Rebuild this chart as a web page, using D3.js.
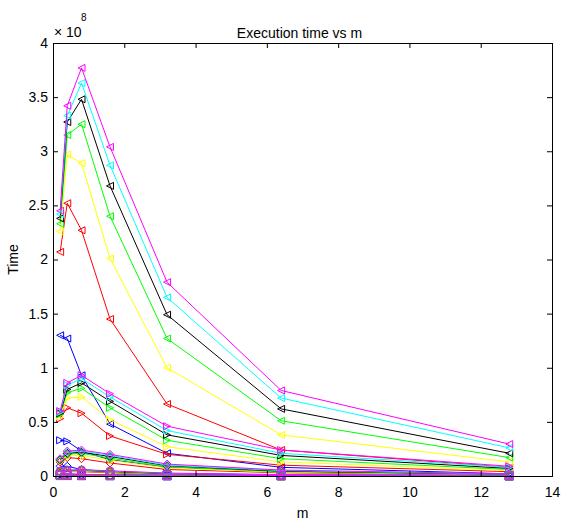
<!DOCTYPE html>
<html>
<head>
<style>
  body { margin: 0; background: #fff; }
  text { font-family: "Liberation Sans", Arial, sans-serif; }
</style>
</head>
<body>
<div id="graph_div"></div>
<script src="https://d3js.org/d3.v7.min.js"></script>
<script>
// m values on the x axis
var mValues = [0.2, 0.4, 0.8, 1.6, 3.2, 6.4, 12.8];
var xTicks = [0, 2, 4, 6, 8, 10, 12, 14];
var yTicks = [0, 0.5, 1, 1.5, 2, 2.5, 3, 3.5, 4];   // x 10^8
var colorNames = ["#0000ff", "#ff0000", "#ffff00", "#00ff00", "#000000", "#00ffff", "#ff00ff"];

// execution time (x 10^8), one row per colour in colorNames order
var timesLeftTri = [
  [1.30, 1.27, 0.93, 0.48, 0.21, 0.08, 0.02],
  [2.07, 2.52, 2.27, 1.45, 0.665, 0.24, 0.08],
  [2.26, 2.97, 2.89, 2.01, 1.00, 0.38, 0.13],
  [2.33, 3.15, 3.25, 2.40, 1.27, 0.51, 0.17],
  [2.38, 3.27, 3.48, 2.68, 1.49, 0.62, 0.21],
  [2.42, 3.33, 3.63, 2.87, 1.65, 0.72, 0.26],
  [2.45, 3.42, 3.77, 3.04, 1.79, 0.79, 0.295]
];
var timesRightTri = [
  [0.33, 0.32, 0.23, 0.15, 0.08, 0.04, 0.015],
  [0.53, 0.63, 0.58, 0.37, 0.20, 0.10, 0.04],
  [0.55, 0.72, 0.73, 0.52, 0.27, 0.13, 0.05],
  [0.57, 0.77, 0.81, 0.63, 0.33, 0.16, 0.06],
  [0.58, 0.80, 0.86, 0.69, 0.38, 0.19, 0.07],
  [0.59, 0.84, 0.90, 0.73, 0.42, 0.21, 0.08],
  [0.60, 0.86, 0.93, 0.76, 0.46, 0.24, 0.09]
];
var timesDiamond = [
  [0.09, 0.09, 0.06, 0.04, 0.02, 0.01, 0.005],
  [0.13, 0.17, 0.16, 0.12, 0.06, 0.03, 0.01],
  [0.14, 0.19, 0.19, 0.145, 0.075, 0.035, 0.012],
  [0.145, 0.20, 0.21, 0.165, 0.085, 0.04, 0.014],
  [0.15, 0.21, 0.22, 0.18, 0.095, 0.045, 0.016],
  [0.155, 0.22, 0.23, 0.19, 0.10, 0.05, 0.018],
  [0.16, 0.23, 0.24, 0.20, 0.11, 0.055, 0.02]
];
var timesCircle = [
  [0.02, 0.02, 0.015, 0.01, 0.005, 0.003, 0.001],
  [0.03, 0.04, 0.04, 0.03, 0.015, 0.008, 0.003],
  [0.035, 0.045, 0.045, 0.035, 0.018, 0.009, 0.003],
  [0.04, 0.048, 0.05, 0.04, 0.02, 0.01, 0.004],
  [0.042, 0.05, 0.052, 0.042, 0.022, 0.011, 0.004],
  [0.045, 0.053, 0.055, 0.045, 0.025, 0.012, 0.005],
  [0.048, 0.055, 0.058, 0.048, 0.027, 0.013, 0.005]
];
var timesSquare = [
  [0.004, 0.004, 0.003, 0.002, 0.001, 0.001, 0.0],
  [0.008, 0.01, 0.01, 0.008, 0.004, 0.002, 0.001],
  [0.009, 0.011, 0.011, 0.009, 0.005, 0.002, 0.001],
  [0.01, 0.012, 0.012, 0.01, 0.005, 0.003, 0.001],
  [0.011, 0.013, 0.013, 0.011, 0.006, 0.003, 0.001],
  [0.012, 0.014, 0.014, 0.012, 0.006, 0.003, 0.001],
  [0.013, 0.015, 0.015, 0.013, 0.007, 0.004, 0.002]
];

var W = 561, H = 520;
var margin = {top: 43, right: 9, bottom: 44, left: 53};
var width = W - margin.left - margin.right,
    height = H - margin.top - margin.bottom;

var svg = d3.select("#graph_div").append("svg")
    .attr("width", W).attr("height", H);
var g = svg.append("g")
    .attr("transform", "translate(" + margin.left + "," + margin.top + ")");

var x = d3.scaleLinear().domain([0, 14]).range([0, width]);
var y = d3.scaleLinear().domain([0, 4]).range([height, 0]);

// marker shapes (unfilled, MATLAB style)
var markerPath = {
  "<": "M-3.5,0L3.5,-3.5L3.5,3.5Z",
  ">": "M3.5,0L-3.5,-3.5L-3.5,3.5Z",
  "d": "M0,-4L4,0L0,4L-4,0Z",
  "o": d3.symbol(d3.symbolCircle, 45)(),
  "s": "M-4,-4H4V4H-4Z"
};

var groups = [
  {marker: "<", rows: timesLeftTri},
  {marker: ">", rows: timesRightTri},
  {marker: "d", rows: timesDiamond},
  {marker: "o", rows: timesCircle},
  {marker: "s", rows: timesSquare}
];

var line = d3.line()
  .x(function(d, i) { return x(mValues[i]); })
  .y(function(d) { return y(d); });

var plot = g.append("g");
groups.forEach(function(grp) {
  grp.rows.forEach(function(row, ci) {
    var col = colorNames[ci];
    var s = plot.append("g");
    s.append("path")
      .attr("d", line(row))
      .attr("fill", "none")
      .attr("stroke", col)
      .attr("stroke-width", 1);
    s.selectAll("path.mk")
      .data(row)
      .enter().append("path")
        .attr("class", "mk")
        .attr("d", markerPath[grp.marker])
        .attr("transform", function(d, i) { return "translate(" + x(mValues[i]) + "," + y(d) + ")"; })
        .attr("fill", "none")
        .attr("stroke", col)
        .attr("stroke-width", 1);
  });
});

// box with inward ticks on all four sides
var tl = 5;
var axB = g.append("g").attr("transform", "translate(0," + height + ")")
  .call(d3.axisBottom(x).tickValues(xTicks).tickSize(-tl).tickPadding(11).tickFormat(d3.format("d")));
var axT = g.append("g")
  .call(d3.axisTop(x).tickValues(xTicks).tickSize(-tl).tickFormat(""));
var axL = g.append("g")
  .call(d3.axisLeft(y).tickValues(yTicks).tickSize(-tl).tickPadding(5).tickFormat(function(d) { return d; }));
var axR = g.append("g").attr("transform", "translate(" + width + ",0)")
  .call(d3.axisRight(y).tickValues(yTicks).tickSize(-tl).tickFormat(""));
[axB, axT, axL, axR].forEach(function(a) {
  a.select(".domain").attr("stroke", "#000");
  a.selectAll("line").attr("stroke", "#000");
  a.selectAll("text").attr("font-size", "14px").attr("fill", "#000")
    .attr("font-family", "Liberation Sans, Arial, sans-serif");
});
axB.selectAll("text").attr("dy", "0.71em");

// exponent label
svg.append("text").attr("x", 54).attr("y", 37).attr("font-size", "14px").text("\u00d7 10");
svg.append("text").attr("x", 81).attr("y", 21).attr("font-size", "10px").text("8");

// title and labels
svg.append("text")
  .attr("x", margin.left + width / 2 - 3).attr("y", 38)
  .attr("text-anchor", "middle").attr("font-size", "14px")
  .text("Execution time vs m");
svg.append("text")
  .attr("x", margin.left + width / 2).attr("y", 518)
  .attr("text-anchor", "middle").attr("font-size", "14px")
  .text("m");
svg.append("text")
  .attr("transform", "translate(18," + (margin.top + height / 2) + ") rotate(-90)")
  .attr("text-anchor", "middle").attr("font-size", "14px")
  .text("Time");
</script>
</body>
</html>
